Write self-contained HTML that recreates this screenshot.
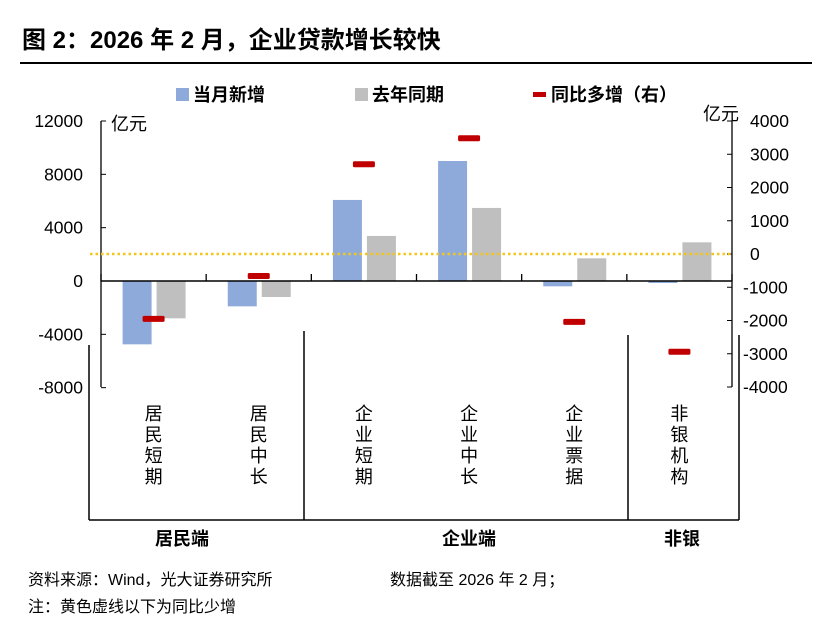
<!DOCTYPE html>
<html><head><meta charset="utf-8"><style>
body{margin:0;background:#fff;font-family:"Liberation Sans","Noto Sans CJK SC",sans-serif;}
</style></head><body>
<svg width="834" height="624" xmlns="http://www.w3.org/2000/svg" font-family="Liberation Sans, Noto Sans CJK SC, sans-serif">
<text x="22" y="48" font-size="24" font-weight="bold" fill="#000">图 2：2026 年 2 月，企业贷款增长较快</text>
<line x1="20" y1="63" x2="812" y2="63" stroke="#000" stroke-width="2"/>
<g font-size="18" font-weight="bold">
<rect x="176" y="88" width="13" height="13" fill="#8eaadb"/>
<text x="193" y="101">当月新增</text>
<rect x="355" y="88" width="13" height="13" fill="#bfbfbf"/>
<text x="372" y="101">去年同期</text>
<rect x="533" y="92" width="13" height="5" fill="#c00000"/>
<text x="551" y="101">同比多增（右）</text>
</g>
<text x="111" y="130" font-size="18">亿元</text>
<text x="703" y="120" font-size="18">亿元</text>
<g id="plot"></g>
<text x="28" y="585" font-size="16">资料来源：Wind，光大证券研究所</text>
<text x="390" y="585" font-size="16">数据截至 2026 年 2 月；</text>
<text x="28" y="612" font-size="16">注：黄色虚线以下为同比少增</text>
</svg>
<script>
const categories=["居民短期","居民中长","企业短期","企业中长","企业票据","非银机构"];
const currentValues=[-4750,-1900,6080,9000,-400,-150];
const lastYearValues=[-2800,-1200,3380,5480,1700,2900];
const yoyValues=[-1950,-660,2700,3480,-2040,-2940];
const leftTicks=[12000,8000,4000,0,-4000,-8000];
const rightTicks=[4000,3000,2000,1000,0,-1000,-2000,-3000,-4000];
const groups=[{name:"居民端",from:0,to:2},{name:"企业端",from:2,to:5},{name:"非银",from:5,to:6}];
const NS="http://www.w3.org/2000/svg";
const g=document.getElementById('plot');
const X0=101,X1=732,TOP=121,BOT=387;
const yL=v=>281-(v)*(160/12000);
const yR=v=>254-(v)*(133/4000);
const cw=(X1-X0)/categories.length;
const cx=i=>X0+cw*(i+0.5);
function mk(t,a){const e=document.createElementNS(NS,t);for(const k in a)e.setAttribute(k,a[k]);g.appendChild(e);return e;}
let e;
e=mk('line',{x1:X0,y1:TOP,x2:X0,y2:BOT,stroke:'#000','stroke-width':1.3});


e=mk('line',{x1:X1,y1:TOP,x2:X1,y2:BOT,stroke:'#000','stroke-width':1.3});


leftTicks.forEach(v=>{
 mk('line',{x1:X0,y1:yL(v),x2:X0+5,y2:yL(v),stroke:'#000'});
 e=mk('text',{x:83,y:yL(v)+6,'font-size':17.5,'text-anchor':'end'});e.textContent=v;
 
 
});
rightTicks.forEach(v=>{
 mk('line',{x1:X1-5,y1:yR(v),x2:X1,y2:yR(v),stroke:'#000'});
 e=mk('text',{x:v<0?743:750,y:yR(v)+6,'font-size':17.5});e.textContent=v;
 
 
});
categories.forEach((c,i)=>{
 let v=currentValues[i];
 e=mk('rect',{x:cx(i)-31,y:Math.min(yL(0),yL(v)),width:29,height:Math.abs(yL(v)-yL(0)),fill:'#8eaadb'});
 
 
 v=lastYearValues[i];
 e=mk('rect',{x:cx(i)+3,y:Math.min(yL(0),yL(v)),width:29,height:Math.abs(yL(v)-yL(0)),fill:'#bfbfbf'});
 
 
});
e=mk('line',{x1:X0,y1:yL(0),x2:X1,y2:yL(0),stroke:'#000','stroke-width':1.5});


for(let i=0;i<=categories.length;i++){mk('line',{x1:X0+cw*i,y1:yL(0),x2:X0+cw*i,y2:yL(0)-7,stroke:'#000','stroke-width':1.3});}
e=mk('line',{x1:90,y1:yR(0),x2:X1,y2:yR(0),stroke:'#f5c518','stroke-width':2.5,'stroke-dasharray':'2.5 3'});


yoyValues.forEach((v,i)=>{
 e=mk('rect',{x:cx(i)-11,y:yR(v)-3,width:22,height:6,rx:1.5,fill:'#c00000'});
 
 
});
categories.forEach((c,i)=>{
 [...c].forEach((ch,j)=>{
  e=mk('text',{x:cx(i),y:420+j*21,'font-size':18,'text-anchor':'middle'});e.textContent=ch;
  
  
 });
});
[[89,345],[304,331],[628,335],[739,335]].forEach(([x,y])=>{
 e=mk('line',{x1:x,y1:y,x2:x,y2:520,stroke:'#000','stroke-width':1.5});
 
 
});
e=mk('line',{x1:89,y1:520,x2:739,y2:520,stroke:'#000','stroke-width':1.5});


const gx=[182,469,682];
groups.forEach((gr,i)=>{
 e=mk('text',{x:gx[i],y:545,'font-size':18,'font-weight':'bold','text-anchor':'middle'});e.textContent=gr.name;
 
 
});
</script>
</body></html>
